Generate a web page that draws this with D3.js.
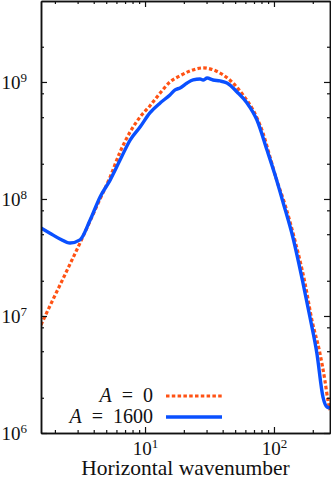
<!DOCTYPE html>
<html>
<head>
<meta charset="utf-8">
<script src="https://cdn.jsdelivr.net/npm/d3@7"></script>
<style>
body { margin: 0; background: #fff; }
svg text { font-family: "Liberation Serif", "Times New Roman", serif; fill: #111; }
</style>
</head>
<body>
<div id="my_dataviz"></div>
<script>
// A = 0 (orange, dotted)
var kA0 = [1.56, 1.83, 2.19, 2.62, 3.13, 3.75, 4.48, 5.36, 6.40, 7.66, 9.15, 10.9, 13.1, 15.6, 18.7, 22.3, 28.2, 33.7, 40.3, 48.1, 57.5, 68.8, 82.2, 93.1, 105, 122, 145, 174, 197, 227, 248, 262, 272];
var eA0 = [8.4e6, 1.22e7, 1.84e7, 2.78e7, 4.2e7, 6.5e7, 1.0e8, 1.54e8, 2.52e8, 3.74e8, 5.02e8, 6.24e8, 8.05e8, 1.0e9, 1.13e9, 1.24e9, 1.32e9, 1.27e9, 1.15e9, 9.8e8, 7.74e8, 5.77e8, 3.66e8, 2.29e8, 1.45e8, 8.9e7, 4.47e7, 1.91e7, 9.2e6, 4.83e6, 2.84e6, 1.91e6, 1.57e6];
// A = 1600 (blue, solid)
var kA1600 = [1.56, 1.83, 2.19, 2.62, 3.13, 3.75, 4.48, 5.36, 6.40, 7.66, 9.15, 10.9, 13.1, 15.6, 17.1, 18.7, 21.2, 23.6, 26.7, 28.2, 30.3, 33.7, 38.1, 43.2, 51.7, 61.8, 73.8, 88.3, 102, 118, 140, 168, 190, 215, 240, 258, 272];
var eA1600 = [5.65e7, 5.1e7, 4.55e7, 4.2e7, 4.47e7, 6.6e7, 1.04e8, 1.45e8, 2.15e8, 3.19e8, 4.12e8, 5.44e8, 6.62e8, 7.74e8, 8.55e8, 8.89e8, 9.8e8, 1.04e9, 1.06e9, 1.04e9, 1.08e9, 1.04e9, 1.02e9, 9.8e8, 8.22e8, 6.62e8, 4.73e8, 2.62e8, 1.6e8, 9.25e7, 4.73e7, 1.91e7, 9.8e6, 4.83e6, 2.03e6, 1.67e6, 1.64e6];

var xMajor = [10, 100];
var xMinor = [2, 3, 4, 5, 6, 7, 8, 9, 20, 30, 40, 50, 60, 70, 80, 90, 200];
var yMajor = [1e6, 1e7, 1e8, 1e9];
var yMinor = [2e6, 5e6, 8e6, 2e7, 5e7, 8e7, 2e8, 5e8, 8e8, 2e9];
var legendValues = ["0", "1600"];
var seriesColors = ["#ff5214", "#0a50ff"];

var margin = {top: 1, right: 1, bottom: 48, left: 41};
var width = 331 - margin.left - margin.right, height = 481 - margin.top - margin.bottom;

var svg = d3.select('#my_dataviz')
    .append('svg')
    .attr('width', width + margin.left + margin.right)
    .attr('height', height + margin.top + margin.bottom)
    .append('g')
    .attr('transform', 'translate(' + margin.left + ',' + margin.top + ')');

var x = d3.scaleLog().domain([1.56, 272]).range([0, width]);
var y = d3.scaleLog().domain([1e6, 4.92e9]).range([height, 0]);

svg.append("clipPath").attr("id", "clip")
  .append("rect").attr("width", width).attr("height", height);

var line = d3.line()
    .x(function(d){ return x(d[0]); })
    .y(function(d){ return y(d[1]); })
    .curve(d3.curveMonotoneX);

var dataA0 = kA0.map(function(k, i){ return [k, eA0[i]]; });
var dataA1600 = kA1600.map(function(k, i){ return [k, eA1600[i]]; });

var plot = svg.append("g").attr("clip-path", "url(#clip)");
plot.append("path").datum(dataA0)
    .attr("d", line).attr("fill", "none")
    .attr("stroke", seriesColors[0]).attr("stroke-width", 3.2)
    .attr("stroke-dasharray", "3.5,2.3");
plot.append("path").datum(dataA1600)
    .attr("d", line).attr("fill", "none")
    .attr("stroke", seriesColors[1]).attr("stroke-width", 3.4);

// axes: ticks drawn inwards on all four sides
function styleAxis(g){
  g.selectAll("path.domain").attr("stroke", "#111").attr("stroke-width", 1.5);
  g.selectAll(".tick line").attr("stroke", "#111").attr("stroke-width", 1.2);
}
function supLabel(sel){
  sel.each(function(d){
    var t = d3.select(this).text("");
    t.append("tspan").text("10");
    t.append("tspan").attr("dy", "-7").attr("font-size", 13).text(Math.round(Math.log10(d)));
  });
}

var xb = svg.append("g").attr("transform", "translate(0," + height + ")")
    .call(d3.axisBottom(x).tickValues(xMajor).tickSize(-6).tickSizeOuter(0).tickPadding(9));
xb.selectAll(".tick text").attr("font-size", 19).attr("dy", "0.71em").call(supLabel);
svg.append("g").attr("transform", "translate(0," + height + ")")
    .call(d3.axisBottom(x).tickValues(xMinor).tickSize(-3).tickSizeOuter(0).tickFormat(""))
    .call(styleAxis);
styleAxis(xb);

var xt = svg.append("g")
    .call(d3.axisTop(x).tickValues(xMajor).tickSize(-6).tickSizeOuter(0).tickFormat(""));
styleAxis(xt);
svg.append("g")
    .call(d3.axisTop(x).tickValues(xMinor).tickSize(-3).tickSizeOuter(0).tickFormat(""))
    .call(styleAxis);

var yl = svg.append("g")
    .call(d3.axisLeft(y).tickValues(yMajor).tickSize(-6).tickSizeOuter(0).tickPadding(14));
yl.selectAll(".tick text").attr("font-size", 19).attr("dy", "0.33em").call(supLabel);
styleAxis(yl);
svg.append("g")
    .call(d3.axisLeft(y).tickValues(yMinor).tickSize(-3).tickSizeOuter(0).tickFormat(""))
    .call(styleAxis);

var yr = svg.append("g").attr("transform", "translate(" + width + ",0)")
    .call(d3.axisRight(y).tickValues(yMajor).tickSize(-6).tickSizeOuter(0).tickFormat(""));
styleAxis(yr);
svg.append("g").attr("transform", "translate(" + width + ",0)")
    .call(d3.axisRight(y).tickValues(yMinor).tickSize(-3).tickSizeOuter(0).tickFormat(""))
    .call(styleAxis);

svg.append("text")
    .attr("x", width / 2).attr("y", height + 42)
    .attr("text-anchor", "middle").attr("font-size", 21.5)
    .text("Horizontal wavenumber");

// legend
var legend = svg.append("g").attr("transform", "translate(0," + (height - 37) + ")");
legendValues.forEach(function(v, i){
  var row = legend.append("g").attr("transform", "translate(0," + (i * 21) + ")");
  var t = row.append("text").attr("x", 112).attr("y", 6).attr("text-anchor", "end").attr("font-size", 20);
  t.append("tspan").attr("font-style", "italic").text("A");
  t.append("tspan").text("\u2002=\u2002" + v);
  row.append("line").attr("x1", 125).attr("x2", 181).attr("y1", 0).attr("y2", 0)
    .attr("stroke", seriesColors[i]).attr("stroke-width", i == 0 ? 3.2 : 3.4)
    .attr("stroke-dasharray", i == 0 ? "3.5,2.3" : null);
});
</script>
</body>
</html>
